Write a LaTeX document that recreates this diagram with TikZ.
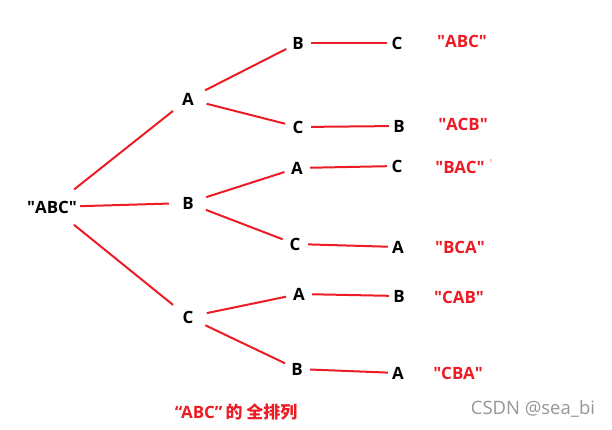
\documentclass[tikz,border=0pt]{standalone}
\usepackage{fontspec}
\setmainfont{Open Sans}
\newfontfamily\cjkfont{Noto Sans CJK SC}
\definecolor{myred}{RGB}{236,28,36}
\definecolor{mygray}{RGB}{150,150,150}
\newcommand{\qd}{\textquotedbl}
\begin{document}
\begin{tikzpicture}[x=1bp,y=-1bp,
  letter/.style={circle, inner sep=0pt, text=black, font=\bfseries\fontsize{17}{17}\selectfont},
  rootnode/.style={letter, minimum size=56bp},
  lvlone/.style={letter, minimum size=38bp},
  lvltwo/.style={letter, minimum size=26bp},
  lvlthree/.style={letter, minimum size=20bp},
  lab/.style={inner sep=0pt, text=myred, font=\bfseries\fontsize{17}{17}\selectfont},
  edge/.style={draw=myred, line width=2bp}]
\useasboundingbox (0,0) rectangle (612,429);
% root
\node[rootnode] (r) at (52,207) {\qd ABC\qd};
% level 1
\node[lvlone] (a) at (188,99) {A};
\node[lvlone] (b) at (188,203) {B};
\node[lvlone] (c) at (188,317) {C};
% level 2
\node[lvltwo] (ab) at (298,43) {B};
\node[lvltwo] (ac) at (298,127) {C};
\node[lvltwo] (ba) at (297,168) {A};
\node[lvltwo] (bc) at (295,244) {C};
\node[lvltwo] (ca) at (299,294) {A};
\node[lvltwo] (cb) at (297,369) {B};
% level 3
\node[lvlthree] (abc) at (397,43) {C};
\node[lvlthree] (acb) at (399,126) {B};
\node[lvlthree] (bac) at (397,166) {C};
\node[lvlthree] (bca) at (398,247) {A};
\node[lvlthree] (cab) at (399,296) {B};
\node[lvlthree] (cba) at (398,373) {A};
% labels
\node[lab] (l1) at (462,41) {\qd ABC\qd};
\node[lab] (l2) at (463,124) {\qd ACB\qd};
\node[lab] (l3) at (460,167) {\qd BAC\qd};
\node[inner sep=0pt, text=myred!45, font=\fontsize{14}{14}\selectfont] (tick) at (491,165) {\textquotesingle};
\node[lab] (l4) at (460,247) {\qd BCA\qd};
\node[lab] (l5) at (459,297) {\qd CAB\qd};
\node[lab] (l6) at (458,373) {\qd CBA\qd};
% caption
\node[lab] (cap) at (236,412) {“ABC”\hspace{3bp}{\cjkfont 的\hspace{4bp}全排列}};
\node[inner sep=0pt, text=mygray, font=\fontsize{18.5}{18.5}\selectfont] (wm) at (533,409) {CSDN @sea\_bi};
% edges
\draw[edge] (r) -- (a);
\draw[edge] (r) -- (b);
\draw[edge] (r) -- (c);
\draw[edge] (a) -- (ab);
\draw[edge] (a) -- (ac);
\draw[edge] (b) -- (ba);
\draw[edge] (b) -- (bc);
\draw[edge] (c) -- (ca);
\draw[edge] (c) -- (cb);
\draw[edge] (ab) -- (abc);
\draw[edge] (ac) -- (acb);
\draw[edge] (ba) -- (bac);
\draw[edge] (bc) -- (bca);
\draw[edge] (ca) -- (cab);
\draw[edge] (cb) -- (cba);
\end{tikzpicture}
\end{document}
